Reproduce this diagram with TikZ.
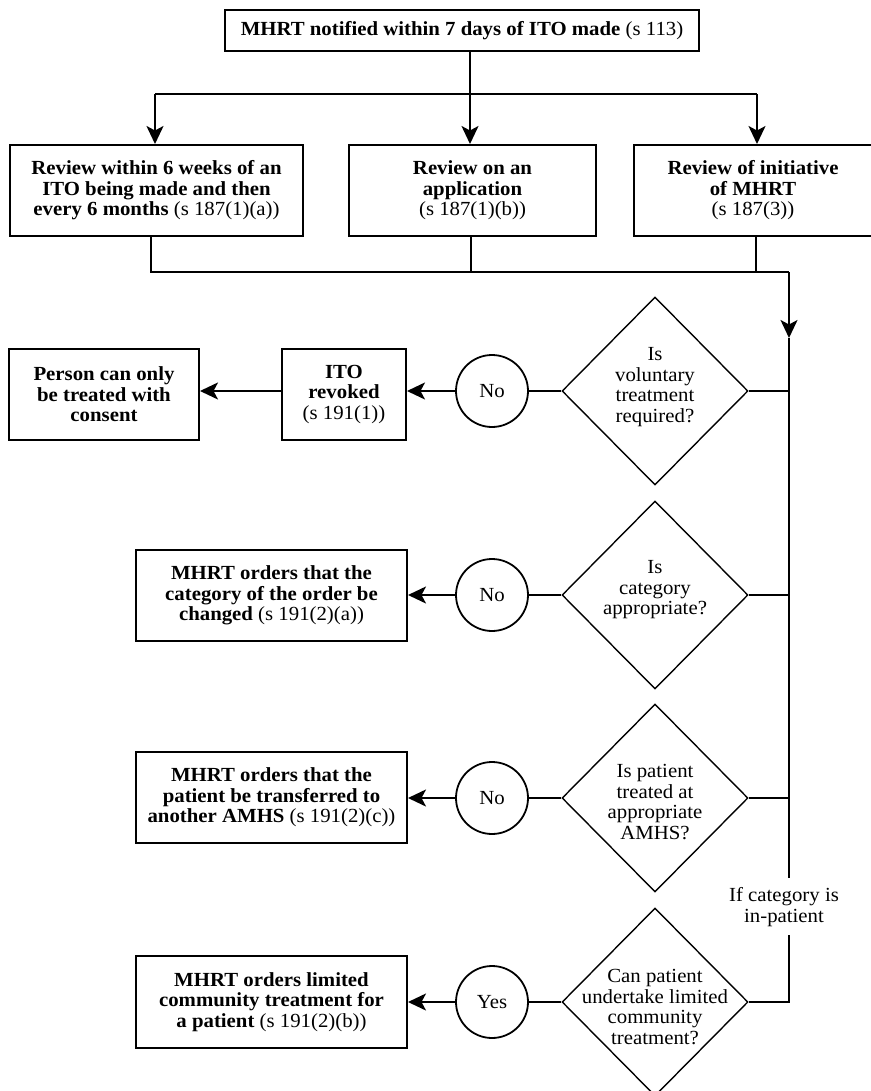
\documentclass[tikz,border=0pt]{standalone}
\usepackage{fontspec}
\setmainfont[FakeStretch=1.04]{Liberation Serif}
\usetikzlibrary{shapes.geometric,arrows.meta,calc}
\begin{document}
\begin{tikzpicture}[x=1pt,y=1pt,
  font=\fontsize{20}{20.5}\selectfont,
  box/.style={draw, line width=2pt, align=center, inner sep=0pt},
  dia/.style={draw, diamond, line width=1.4pt, minimum width=186pt, minimum height=188pt, inner sep=0pt},
  circ/.style={draw, circle, line width=1.8pt, minimum size=72pt, inner sep=0pt},
  conn/.style={line width=2pt},
  arr/.style={conn, -{Stealth[length=18pt,width=17pt,inset=4.5pt]}},
  qtext/.style={align=center, inner sep=0pt}
]
\useasboundingbox (0,0) rectangle (870,-1091);
% top
\node[box, minimum width=474pt, minimum height=41pt] (top) at (462,-30.5)
  {\textbf{MHRT notified within 7 days of ITO made} (s 113)};
% review boxes
\node[box, minimum width=293pt, minimum height=91pt] (b1) at (156.5,-190.5)
  {\textbf{Review within 6 weeks of an}\\\textbf{ITO being made and then}\\\textbf{every 6 months} (s 187(1)(a))};
\node[box, minimum width=247pt, minimum height=91pt] (b2) at (472.5,-190.5)
  {\textbf{Review on an}\\\textbf{application}\\(s 187(1)(b))};
\node[box, minimum width=238pt, minimum height=91pt] (b3) at (753,-190.5)
  {\textbf{Review of initiative}\\\textbf{of MHRT}\\(s 187(3))};
% diamonds
\node[dia] (d1) at (655,-391) {};
\node[dia] (d2) at (655,-595) {};
\node[dia] (d3) at (655,-798) {};
\node[dia] (d4) at (655,-1002) {};
\node[qtext] (d1t) at (655,-387) {Is\\voluntary\\treatment\\required?};
\node[qtext] (d2t) at (655,-590) {Is\\category\\appropriate?};
\node[qtext] (d3t) at (655,-802) {Is patient\\treated at\\appropriate\\AMHS?};
\node[qtext] (d4t) at (655,-1007) {Can patient\\undertake limited\\community\\treatment?};
% circles
\node[circ] (c1) at (492,-391) {No};
\node[circ] (c2) at (492,-595) {No};
\node[circ] (c3) at (492,-798) {No};
\node[circ] (c4) at (492,-1002) {Yes};
% outcome boxes
\node[box, minimum width=124pt, minimum height=91pt] (ito) at (344,-394.5)
  {\textbf{ITO}\\\textbf{revoked}\\(s 191(1))};
\node[box, minimum width=190pt, minimum height=91pt] (person) at (104,-394.5)
  {\textbf{Person can only}\\\textbf{be treated with}\\\textbf{consent}};
\node[box, minimum width=271pt, minimum height=91pt] (o2) at (271.5,-595.5)
  {\textbf{MHRT orders that the}\\\textbf{category of the order be}\\\textbf{changed} (s 191(2)(a))};
\node[box, minimum width=271pt, minimum height=91pt] (o3) at (271.5,-797.5)
  {\textbf{MHRT orders that the}\\\textbf{patient be transferred to}\\\textbf{another AMHS} (s 191(2)(c))};
\node[box, minimum width=271pt, minimum height=92pt] (o4) at (271.5,-1002)
  {\textbf{MHRT orders limited}\\\textbf{community treatment for}\\\textbf{a patient} (s 191(2)(b))};
% label
\node[qtext] (lab) at (784,-907) {If category is\\in-patient};
% top connectors
\coordinate (j0) at (470,-94);
\coordinate (jl) at (155,-94);
\coordinate (jr) at (757,-94);
\draw[conn] (top.south -| j0) -- (j0);
\draw[conn] (jl) -- (jr);
\draw[arr] (jl) -- (jl |- b1.north);
\draw[arr] (j0) -- (j0 |- b2.north);
\draw[arr] (jr) -- (jr |- b3.north);
% gathering connectors
\coordinate (k1) at (151,-272);
\coordinate (k2) at (471,-272);
\coordinate (k3) at (756,-272);
\coordinate (k4) at (789,-272);
\coordinate (m1) at (789,-338);
\coordinate (gapt) at (789,-878);
\coordinate (gapb) at (789,-935);
\draw[conn] (b1.south -| k1) -- (k1) -- (k4);
\draw[conn] (b2.south -| k2) -- (k2);
\draw[conn] (b3.south -| k3) -- (k3);
\draw[arr] (k4) -- (m1);
\draw[conn] (m1) -- (gapt);
\draw[conn] (gapb) -- (gapb |- d4.east) -- (d4.east);
\draw[conn] (d1.east) -- (d1.east -| m1);
\draw[conn] (d2.east) -- (d2.east -| m1);
\draw[conn] (d3.east) -- (d3.east -| m1);
% decisions
\draw[conn] (d1.west) -- (c1.east);
\draw[conn] (d2.west) -- (c2.east);
\draw[conn] (d3.west) -- (c3.east);
\draw[conn] (d4.west) -- (c4.east);
\draw[arr] (c1.west) -- (c1.west -| ito.east);
\draw[arr] (c1.west -| ito.west) -- (c1.west -| person.east);
\draw[arr] (c2.west) -- (c2.west -| o2.east);
\draw[arr] (c3.west) -- (c3.west -| o3.east);
\draw[arr] (c4.west) -- (c4.west -| o4.east);
\end{tikzpicture}
\end{document}
